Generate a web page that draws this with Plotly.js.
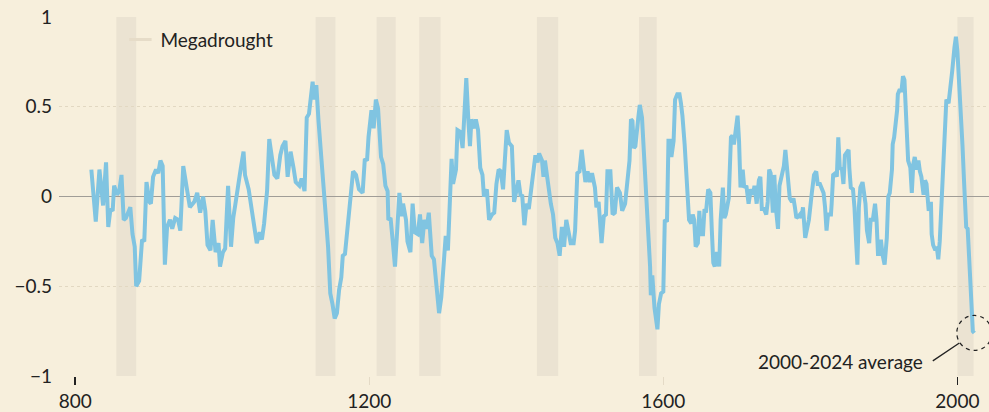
<!DOCTYPE html>
<html>
<head>
<meta charset="utf-8">
<script src="https://cdn.plot.ly/plotly-3.0.1.min.js"></script>
<style>html,body{margin:0;padding:0;background:#f7efdc;}#chart{width:989px;height:412px;}</style>
</head>
<body>
<div id="chart"></div>
<script>
// Reconstructed index values
const years = [822,828,833,838,842,845,848,851,853,857,860,863,866,869,875,878,881,883,887,891,894,897,901,903,906,910,913,916,919,922,925,929,932,936,940,943,947,951,956,962,966,970,974,977,980,984,987,991,995,997,1001,1004,1008,1012,1015,1018,1021,1025,1029,1031,1036,1039,1042,1047,1051,1054,1057,1061,1064,1067,1071,1075,1079,1082,1086,1089,1093,1097,1100,1105,1108,1112,1115,1118,1121,1123,1125,1128,1131,1134,1137,1140,1144,1147,1150,1153,1156,1159,1162,1164,1167,1171,1174,1178,1182,1186,1191,1194,1197,1199,1203,1206,1209,1212,1216,1219,1222,1225,1226,1229,1232,1235,1238,1241,1244,1246,1250,1252,1256,1259,1262,1266,1269,1272,1275,1278,1281,1285,1288,1292,1295,1298,1301,1304,1307,1310,1312,1314,1318,1320,1324,1327,1329,1332,1335,1337,1339,1343,1345,1348,1351,1354,1356,1360,1363,1367,1370,1373,1376,1379,1382,1385,1387,1390,1394,1397,1403,1406,1408,1411,1414,1417,1420,1423,1426,1429,1431,1435,1437,1439,1441,1444,1447,1450,1453,1456,1459,1462,1465,1468,1471,1474,1478,1480,1483,1486,1489,1491,1494,1497,1500,1503,1507,1509,1512,1516,1519,1522,1524,1528,1531,1534,1537,1541,1544,1548,1551,1554,1556,1558,1560,1562,1566,1568,1571,1573,1575,1577,1580,1582,1583,1585,1588,1590,1592,1594,1597,1600,1602,1605,1607,1609,1611,1614,1616,1619,1622,1624,1626,1629,1631,1633,1635,1638,1640,1642,1644,1647,1649,1651,1654,1656,1658,1661,1664,1666,1668,1670,1673,1676,1678,1681,1683,1685,1688,1689,1692,1694,1696,1699,1701,1703,1705,1708,1710,1713,1716,1719,1722,1724,1727,1730,1732,1734,1737,1740,1742,1744,1746,1749,1751,1753,1756,1758,1761,1764,1766,1768,1770,1772,1775,1777,1779,1781,1784,1786,1788,1790,1793,1796,1798,1802,1805,1808,1810,1813,1815,1818,1820,1822,1824,1828,1829,1831,1834,1836,1838,1840,1843,1845,1847,1849,1852,1853,1855,1858,1860,1862,1864,1866,1868,1871,1873,1875,1877,1880,1882,1885,1888,1890,1892,1894,1896,1898,1901,1904,1906,1908,1911,1912,1914,1916,1918,1919,1921,1924,1926,1928,1930,1931,1933,1936,1938,1940,1942,1945,1947,1949,1951,1954,1956,1958,1960,1961,1964,1965,1967,1970,1972,1974,1976,1979,1981,1983,1985,1988,1989,1991,1993,1996,1998,2000,2001,2003,2005,2007,2009,2012,2014,2016,2017,2019,2021,2023];
const values = [0.15,-0.14,0.15,-0.05,0.19,-0.17,-0.07,-0.08,0.06,0.01,0.03,0.12,-0.13,-0.12,-0.06,-0.21,-0.28,-0.50,-0.47,-0.24,-0.25,0.08,-0.03,-0.04,0.11,0.15,0.13,0.20,0.17,-0.38,-0.17,-0.13,-0.18,-0.12,-0.13,-0.19,0.17,0.08,-0.06,-0.03,0.02,-0.09,0.00,-0.08,-0.27,-0.30,-0.13,-0.31,-0.26,-0.39,-0.31,-0.29,0.06,-0.28,-0.12,-0.04,0.06,0.15,0.25,0.12,0.04,-0.04,-0.13,-0.26,-0.20,-0.24,-0.15,0.03,0.32,0.23,0.12,0.10,0.23,0.28,0.31,0.11,0.25,0.16,0.08,0.06,0.10,0.03,0.44,0.46,0.57,0.64,0.54,0.62,0.42,0.24,0.11,-0.06,-0.28,-0.54,-0.60,-0.68,-0.65,-0.52,-0.45,-0.33,-0.32,-0.15,-0.06,0.14,0.12,0.04,0.02,0.21,0.20,0.33,0.48,0.38,0.54,0.49,0.22,0.18,0.06,0.03,-0.13,-0.12,-0.25,-0.39,-0.19,0.02,-0.11,-0.04,-0.13,-0.25,-0.31,-0.04,-0.20,-0.21,-0.10,-0.26,-0.13,-0.18,-0.09,-0.33,-0.35,-0.51,-0.65,-0.56,-0.34,-0.22,-0.30,-0.04,0.21,0.07,0.15,0.37,0.36,0.27,0.48,0.66,0.41,0.28,0.43,0.38,0.43,0.37,0.16,0.12,0.00,0.04,-0.13,-0.10,-0.09,0.07,0.15,0.14,0.04,0.31,0.37,0.30,0.28,-0.03,0.09,0.00,0.01,-0.16,-0.04,-0.07,0.03,0.16,0.23,0.19,0.24,0.20,0.11,0.20,0.13,0.04,-0.04,-0.10,-0.23,-0.26,-0.33,-0.17,-0.28,-0.13,-0.19,-0.26,-0.26,-0.19,0.13,0.14,0.26,0.18,0.08,0.14,0.08,0.13,0.05,-0.06,-0.03,-0.26,-0.11,-0.10,0.14,0.14,-0.10,-0.09,0.05,0.02,-0.08,-0.04,0.11,0.20,0.43,0.42,0.27,0.28,0.44,0.51,0.44,0.28,0.21,-0.02,-0.28,-0.39,-0.55,-0.44,-0.62,-0.67,-0.74,-0.60,-0.54,-0.53,-0.13,-0.14,0.31,0.31,0.22,0.31,0.54,0.57,0.57,0.52,0.45,0.29,0.11,-0.02,-0.13,-0.15,-0.10,-0.13,-0.28,-0.26,-0.08,-0.21,-0.21,-0.07,-0.09,0.04,0.02,-0.19,-0.37,-0.39,-0.31,-0.39,-0.13,0.05,-0.12,-0.10,-0.02,-0.01,0.33,0.34,0.29,0.38,0.45,0.31,0.05,0.15,0.05,0.06,-0.04,0.04,0.01,0.06,-0.04,0.09,0.11,-0.07,-0.07,-0.10,-0.03,0.15,0.13,-0.09,0.12,-0.06,-0.18,0.06,0.11,0.17,0.26,0.15,0.06,-0.01,-0.03,-0.01,-0.06,-0.12,-0.11,-0.10,-0.12,-0.06,-0.23,-0.17,-0.13,0.02,0.12,0.14,0.07,0.07,0.05,0.02,-0.06,-0.19,-0.10,-0.10,-0.04,0.12,0.13,0.11,0.33,0.16,0.15,0.07,0.23,0.24,0.26,0.16,0.05,0.04,-0.06,-0.23,-0.38,-0.06,0.05,0.08,0.00,-0.04,-0.19,-0.26,-0.13,-0.13,-0.04,-0.13,-0.32,-0.32,-0.24,-0.32,-0.38,-0.23,0.00,0.02,0.15,0.29,0.33,0.39,0.48,0.57,0.59,0.59,0.67,0.65,0.48,0.33,0.20,0.16,0.02,0.18,0.22,0.15,0.20,0.14,0.11,0.01,0.09,0.07,-0.04,-0.08,-0.03,-0.21,-0.27,-0.30,-0.28,-0.35,-0.25,0.02,0.26,0.48,0.54,0.52,0.55,0.63,0.70,0.83,0.89,0.81,0.74,0.55,0.50,0.28,0.09,-0.17,-0.18,-0.32,-0.43,-0.62,-0.75,-0.76];
// Megadrought periods
const droughtStart = [856, 1127, 1210, 1268, 1428, 1567, 2000];
const droughtEnd   = [883, 1154, 1236, 1297, 1457, 1591, 2022];
const xTicks = [800, 1200, 1600, 2000];
const xTicksDark = [800, 2000];
const yTicks = [-1, -0.5, 0, 0.5, 1];
const yTickText = ['\u22121', '\u22120.5', '0', '0.5', '1'];
const legendLabel = 'Megadrought';
const noteText = '2000-2024 average';

const FONT = 'Lato, "Open Sans", sans-serif';
const BAND = '#ebe3d2';
const lastX = years[years.length - 1];
const lastY = values[values.length - 1];

const shapes = droughtStart.map((s, i) => ({
  type: 'rect', xref: 'x', yref: 'y', x0: s, x1: droughtEnd[i], y0: -1, y1: 1,
  fillcolor: BAND, line: {width: 0}, layer: 'below'
}));
shapes.push({
  type: 'circle', xref: 'x', yref: 'y', xsizemode: 'pixel', ysizemode: 'pixel',
  xanchor: lastX, yanchor: lastY, x0: -17.5, x1: 17.5, y0: -17.5, y1: 17.5,
  line: {color: '#222', width: 1.2, dash: '4px,4px'}, fillcolor: 'rgba(0,0,0,0)', layer: 'above'
});

const traces = [
  {x: years, y: values, type: 'scatter', mode: 'lines',
   line: {color: '#80c4e1', width: 4}, showlegend: false, hoverinfo: 'skip'},
  {x: [null], y: [null], type: 'scatter', mode: 'markers', name: legendLabel,
   marker: {symbol: 'line-ew', size: 16, line: {color: '#e6dcc8', width: 3}}, showlegend: true},
  {x: [null], y: [null], xaxis: 'x2', type: 'scatter', mode: 'lines', showlegend: false, hoverinfo: 'skip'}
];

const layout = {
  width: 989, height: 412,
  margin: {l: 59, r: 0, t: 17, b: 36},
  paper_bgcolor: '#f7efdc', plot_bgcolor: '#f7efdc',
  font: {family: FONT, size: 19, color: '#222'},
  showlegend: true,
  legend: {x: 0.066, xanchor: 'left', y: 0.99, yanchor: 'top', bgcolor: 'rgba(0,0,0,0)',
           font: {family: FONT, size: 19, color: '#222'}},
  xaxis: {range: [778, 2043], tickvals: xTicks, ticks: 'outside', ticklen: 8, tickwidth: 1.5,
          tickcolor: '#e4dac6', showgrid: false, zeroline: false, showline: false,
          tickfont: {family: FONT, size: 19, color: '#222'}, fixedrange: true},
  xaxis2: {overlaying: 'x', matches: 'x', anchor: 'y', side: 'bottom', tickvals: xTicksDark,
           ticks: 'outside', ticklen: 8, tickwidth: 1.5, tickcolor: '#222', showticklabels: false,
           showgrid: false, zeroline: false, showline: false},
  yaxis: {range: [-1, 1], tickvals: yTicks, ticktext: yTickText, ticks: '',
          showgrid: true, gridcolor: '#e2d8c2', griddash: 'dot', gridwidth: 1,
          zeroline: true, zerolinecolor: '#a09d97', zerolinewidth: 1.5, showline: false,
          ticklabelstandoff: 6, tickfont: {family: FONT, size: 19, color: '#222'}, fixedrange: true},
  shapes: shapes,
  annotations: [
    {x: lastX, y: lastY, xref: 'x', yref: 'y', text: noteText, showarrow: false,
     xanchor: 'right', yanchor: 'middle', xshift: -49, yshift: -29,
     font: {family: FONT, size: 19, color: '#222'}},
    {x: lastX, y: lastY, xref: 'x', yref: 'y', text: '', showarrow: true, arrowhead: 0,
     ax: -43, ay: 29, standoff: 18, arrowwidth: 1.3, arrowcolor: '#222'}
  ]
};

Plotly.newPlot('chart', traces, layout, {displayModeBar: false, staticPlot: true});
</script>
</body>
</html>
